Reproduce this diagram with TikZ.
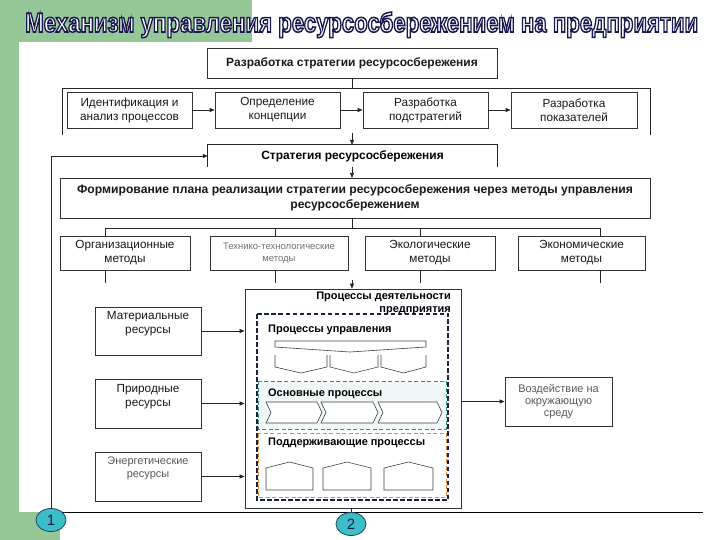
\documentclass[tikz,border=0pt]{standalone}
\usepackage{fontspec}
\setmainfont{Liberation Sans}
\usetikzlibrary{arrows.meta,shapes.geometric}
\definecolor{bggreen}{RGB}{150,199,150}
\definecolor{titlenavy}{RGB}{25,25,80}
\definecolor{circteal}{RGB}{60,190,200}
\definecolor{circline}{RGB}{30,70,90}
\definecolor{baseline}{RGB}{110,200,205}
\definecolor{dnavy}{RGB}{25,35,60}
\definecolor{dteal}{RGB}{40,150,130}
\definecolor{dorange}{RGB}{225,135,60}
\definecolor{tealfill}{RGB}{240,247,247}
\newcommand\outlinetxt[1]{{\color{white}\special{pdf:literal direct 0.098 0.098 0.314 RG 1.6 w 2 Tr}#1\special{pdf:literal direct 0 Tr}}}
\begin{document}
\begin{tikzpicture}[x=1bp,y=-1bp,
  box/.style={draw=black!80, line width=0.8bp, fill=white, align=center, inner sep=0pt, text=black!90},
  t11/.style={font=\fontsize{11.8}{14}\selectfont},
  tb/.style={font=\bfseries\fontsize{12}{14.5}\selectfont},
  tsb/.style={font=\bfseries\fontsize{11}{13}\selectfont},
  arr/.style={-{Triangle[length=5bp,width=4bp]}, line width=0.7bp, draw=black!85},
  ln/.style={line width=0.7bp, draw=black!85},
  shp/.style={line width=0.6bp, draw=black!75},
  circ/.style={ellipse, draw=circline, line width=0.8bp, fill=circteal, minimum width=30bp, minimum height=23bp, inner sep=0pt, text=titlenavy, font=\fontsize{15}{15}\selectfont}]
\useasboundingbox (0,0) rectangle (720,540);
% background
\fill[white] (0,0) rectangle (720,540);
\fill[bggreen] (0,0) rectangle (252,42);
\fill[bggreen] (0,0) rectangle (19,512);
\fill[bggreen] (0,512) rectangle (60,540);
\draw[baseline, line width=1bp] (60,512) -- (703,512);
% title
\node[anchor=base west, inner sep=0pt] (title) at (25,32)
  {\resizebox{673bp}{20bp}{\bfseries\fontsize{28}{30}\selectfont\outlinetxt{Механизм управления ресурсосбережением на предприятии}}};
% top
\node[box, tb, minimum width=290bp, minimum height=30bp] (top) at (352,63) {Разработка стратегии ресурсосбережения};
\coordinate (ftl) at (62,88);
\coordinate (ftr) at (650,88);
\coordinate (fbl) at (62,135);
\coordinate (fbr) at (650,135);
\draw[ln] (fbl) -- (ftl) -- (ftr) -- (fbr);
\draw[ln] (top.south) -- (top.south |- ftl);
\node[box, t11, minimum width=125bp, minimum height=36bp] (b1) at (129.5,110) {Идентификация и\\анализ процессов};
\node[box, t11, minimum width=125bp, minimum height=36bp] (b2) at (277.5,110) {Определение\\концепции};
\node[box, t11, minimum width=125bp, minimum height=36bp] (b3) at (425.5,110) {Разработка\\подстратегий};
\node[box, t11, minimum width=126bp, minimum height=36bp] (b4) at (574,110) {Разработка\\показателей};
\draw[arr] (b1) -- (b2);
\draw[arr] (b2) -- (b3);
\draw[arr] (b3) -- (b4);
% strategy
\node[tb, inner sep=0pt, minimum width=289bp, minimum height=22bp] (strat) at (352.5,156) {Стратегия ресурсосбережения};
\draw[ln] (strat.south west) -- (strat.north west) -- (strat.north east) -- (strat.south east);
\coordinate (fb) at (352,133);
\draw[arr] (fb) -- (fb |- strat.north);
% plan
\node[box, tb, font=\bfseries\fontsize{12.2}{15}\selectfont, minimum width=590bp, minimum height=40bp] (plan) at (355,198) {Формирование плана реализации стратегии ресурсосбережения через методы управления\\ресурсосбережением};
\draw[arr] (352,167) -- (352,178);
% methods
\node[box, t11, minimum width=130bp, minimum height=34bp] (m1) at (125,253) {Организационные\\методы};
\node[box, font=\fontsize{9.5}{12}\selectfont, text=black!55, minimum width=138bp, minimum height=34bp] (m2) at (279,253) {Технико-технологические\\методы};
\node[box, t11, minimum width=130bp, minimum height=34bp] (m3) at (430,253) {Экологические\\методы};
\node[box, t11, minimum width=127bp, minimum height=34bp] (m4) at (581.5,253) {Экономические\\методы};
\coordinate (d0) at (352,228);
\coordinate (d1) at (105,228);
\coordinate (d2) at (275,228);
\coordinate (d3) at (420,228);
\coordinate (d4) at (600,228);
\draw[ln] (d0 |- plan.south) -- (d0);
\draw[ln] (d1) -- (d4);
\foreach \i in {1,2,3,4} {
  \draw[ln] (d\i) -- (d\i |- m\i.north);
  \draw[ln] (d\i |- m\i.south) -- ++(0,13);
}
% processes box
\node[box, minimum width=216bp, minimum height=219bp] (proc) at (353,398.5) {};
\coordinate (pa) at (352,280);
\draw[arr] (pa) -- (pa |- proc.north);
\node[tsb, align=right, anchor=north east, inner sep=0pt] (proct) at (451,292) {Процессы деятельности\\предприятия};
% dashed areas
\draw[dteal, fill=tealfill, line width=1bp, dash pattern=on 4bp off 2.5bp] (258,381) rectangle (446,429);
\draw[dorange, line width=1bp, dash pattern=on 4bp off 2.5bp] (258,433) rectangle (446,497);
\draw[dnavy, line width=1.6bp, dash pattern=on 4.5bp off 2.5bp] (257,314) rectangle (448,500);
% management
\node[tsb, anchor=west, inner sep=0pt] (lman) at (268,330) {Процессы управления};
\draw[shp] (275,341) -- (426,341) -- (426,347) -- (350,352) -- (275,347) -- cycle;
\foreach \a/\b in {275/327, 330/378, 381/426} {
  \draw[shp] (\a,355) -- (\a,367) -- ({(\a+\b)/2},373) -- (\b,367) -- (\b,355);
}
% main
\node[tsb, anchor=west, inner sep=0pt] (lmain) at (268,394) {Основные процессы};
\foreach \a/\b in {266/317, 321/373, 378/437} {
  \draw[shp, fill=white] (\a,402) -- (\b,402) -- (\b+5,412.5) -- (\b,423) -- (\a,423) -- (\a+5,412.5) -- cycle;
}
% support
\node[tsb, anchor=west, inner sep=0pt] (lsup) at (268,443) {Поддерживающие процессы};
\foreach \a/\b in {266/313, 323/371, 384/433} {
  \draw[shp] (\a,490) -- (\a,468) -- ({(\a+\b)/2},462) -- (\b,468) -- (\b,490) -- cycle;
}
% resources
\node[box, minimum width=106bp, minimum height=48bp] (r1) at (148,331) {};
\node[t11, align=center, anchor=north, inner sep=0pt, text=black!90] (r1t) at (148,311) {Материальные\\ресурсы};
\node[box, minimum width=106bp, minimum height=49bp] (r2) at (148,403.5) {};
\node[t11, align=center, anchor=north, inner sep=0pt, text=black!90] (r2t) at (148,384) {Природные\\ресурсы};
\node[box, minimum width=106bp, minimum height=49bp] (r3) at (148,476.5) {};
\node[font=\fontsize{11}{12.5}\selectfont, align=center, anchor=north, inner sep=0pt, text=black!65] (r3t) at (148,457) {Энергетические\\ресурсы};
\draw[arr] (r1.east) -- (r1.east -| proc.west);
\draw[arr] (r2.east) -- (r2.east -| proc.west);
\draw[arr] (r3.east) -- (r3.east -| proc.west);
% environment
\node[box, font=\fontsize{11}{12}\selectfont, text=black!65, minimum width=107bp, minimum height=49bp] (env) at (558.5,401.5) {Воздействие на\\окружающую\\среду};
\draw[arr] (proc.east |- env.west) -- (env.west);
% circles
\node[circ] (c1) at (51,520) {1};
\node[circ] (c2) at (351,524) {2};
\draw[ln] (proc.south -| c2.north) -- (c2.north);
\draw[arr] (c1.north) |- (strat.west);
\end{tikzpicture}
\end{document}
